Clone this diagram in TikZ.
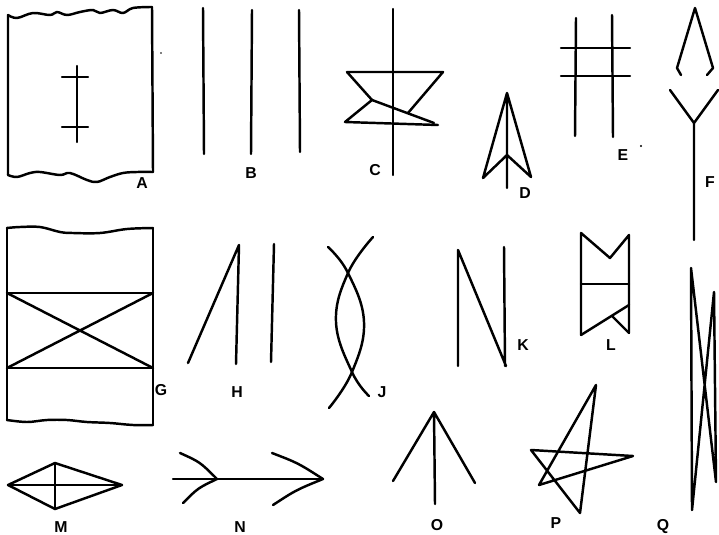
\documentclass[tikz,border=0pt]{standalone}
\usepackage{fontspec}
\setsansfont{Liberation Sans}
\usepackage{tikz}
\usetikzlibrary{calc}
\tikzset{
  glyph/.style={line width=1.4pt, line join=round, line cap=round},
  tag/.style={font=\sffamily\bfseries\fontsize{9}{9}\selectfont, inner sep=0pt}
}

\begin{document}
\begin{tikzpicture}[x=0.02cm, y=-0.02cm]
\useasboundingbox (0,0) rectangle (719,534);
% --- A: torn sheet with barred stroke ---
\draw[glyph] plot[smooth, tension=0.6] coordinates {(8,15) (17,18) (33,13) (50,15) (57,12) (67,15) (80,12) (93,10) (100,13) (113,10) (123,13) (133,8) (152,7)};
\draw[glyph] plot[smooth, tension=0.6] coordinates {(8,175) (17,177) (30,173) (40,172) (60,175) (70,173) (87,180) (97,182) (110,177) (123,173) (137,172) (153,172)};
\draw[glyph] (8,15) -- (8,175) (152,7) -- (153,172);
\draw[glyph] (77,66) -- (77,142);
\draw[glyph] (62,77) -- (88,77) (62,127) -- (88,127);
\node[tag] (labA) at (142,183) {A};
\fill (161,53) circle (0.5pt);
% --- B: three strokes ---
\foreach \xa/\xb/\ya/\yb in {203/204/8/154, 252/251/10/154, 299/300/10/152}
  \draw[glyph] (\xa,\ya) -- (\xb,\yb);
\node[tag] (labB) at (251,173) {B};
% --- C ---
\draw[glyph] (393,9) -- (393,175);
\draw[glyph] (408,113) -- (443,72) -- (347,72) -- (372,100) -- (345,122) -- (438,125);
\draw[glyph] (372,100) -- (434,123);
\node[tag] (labC) at (375,170) {C};
% --- D: arrow head ---
\draw[glyph] (507,188) -- (507,93) -- (483,178) -- (507,155) -- (531,177) -- (507,93);
\node[tag] (labD) at (525,193) {D};
% --- E: ladder ---
\draw[glyph] (576,18) -- (575,136) (612,15) -- (613,137);
\draw[glyph] (561,48) -- (630,48) (561,76) -- (630,76);
\node[tag] (labE) at (623,155) {E};
\fill (641,146) circle (0.7pt);
% --- F ---
\draw[glyph] (681,75) -- (677,68) -- (695,8) -- (713,68) -- (707,75);
\draw[glyph] (670,90) -- (694,123) -- (718,90) (694,123) -- (694,240);
\node[tag] (labF) at (710,182) {F};
% --- G: torn sheet with crossed band ---
\draw[glyph] plot[smooth, tension=0.6] coordinates {(7,228) (20,227) (40,227) (60,232) (73,233) (100,233) (127,229) (153,228)};
\draw[glyph] plot[smooth, tension=0.6] coordinates {(7,420) (27,422) (47,420) (67,420) (87,422) (110,423) (133,425) (153,425)};
\draw[glyph] (7,228) -- (7,420) (153,228) -- (153,425);
\draw[glyph] (7,293) -- (153,293) (7,368) -- (153,368);
\draw[glyph] (7,293) -- (153,368) (7,368) -- (153,293);
\node[tag] (labG) at (161,390) {G};
% --- H ---
\draw[glyph] (188,363) -- (239,245) -- (236,364);
\draw[glyph] (274,244) -- (271,362);
\node[tag] (labH) at (237,392) {H};
% --- J: crossed arcs ---
\draw[glyph] plot[smooth, tension=0.7] coordinates {(328,247) (348,273) (364,322) (352,372) (329,408)};
\draw[glyph] plot[smooth, tension=0.7] coordinates {(373,237) (348,273) (336,322) (352,372) (369,396)};
\node[tag] (labJ) at (382,392) {J};
% --- K ---
\draw[glyph] (458,366) -- (458,250) -- (506,366) (504,247) -- (505,366);
\node[tag] (labK) at (523,345) {K};
% --- L ---
\draw[glyph] (581,335) -- (581,233) -- (610,258) -- (629,235) -- (629,333);
\draw[glyph] (581,284) -- (629,284);
\draw[glyph] (581,335) -- (629,305) (612,316) -- (629,333);
\node[tag] (labL) at (611,345) {L};
% --- M: lozenge ---
\draw[glyph] (8,485) -- (55,463) -- (122,485) -- (55,509) -- cycle;
\draw[glyph] (8,485) -- (122,485) (55,463) -- (55,509);
\node[tag] (labM) at (61,527) {M};
% --- N: feathered arrow ---
\draw[glyph] (173,479) -- (323,479);
\draw[glyph] (180,453) .. controls (200,462) .. (217,479) .. controls (198,488) .. (183,503);
\draw[glyph] (272,453) .. controls (298,463) .. (323,479) .. controls (296,490) .. (273,505);
\node[tag] (labN) at (240,527) {N};
% --- O ---
\draw[glyph] (393,481) -- (434,412) -- (475,483) (434,412) -- (435,504);
\node[tag] (labO) at (437,525) {O};
% --- P: star ---
\draw[glyph] (596,385) -- (539,485) -- (633,456) -- (531,450) -- (580,513) -- cycle;
\node[tag] (labP) at (556,523) {P};
% --- Q ---
\draw[glyph] (691,268) -- (692,510) -- (714,292) -- (716,482) -- cycle;
\node[tag] (labQ) at (663,527) {Q};
\end{tikzpicture}
\end{document}
